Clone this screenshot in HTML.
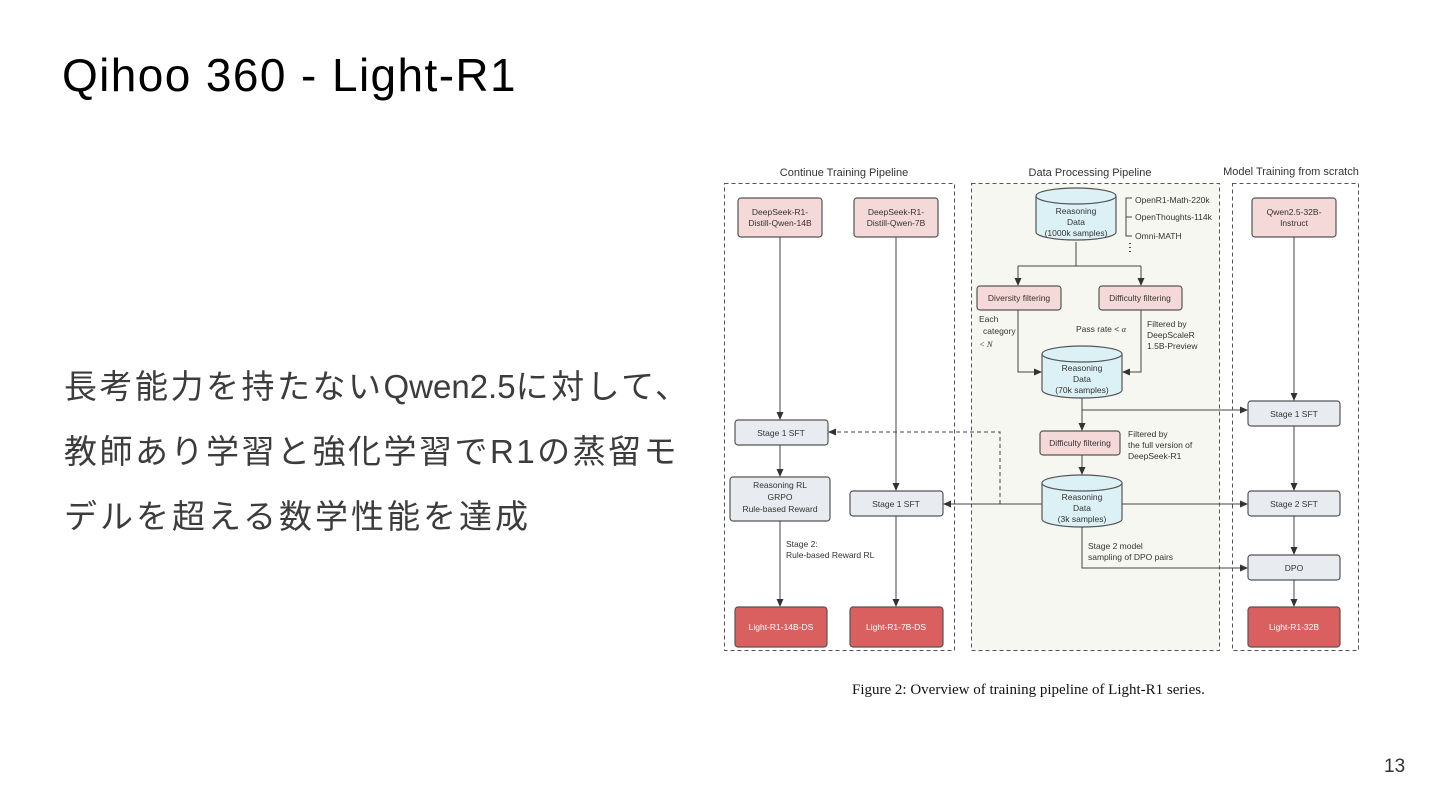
<!DOCTYPE html>
<html><head><meta charset="utf-8"><style>
body{margin:0;width:1440px;height:810px;background:#fff;position:relative;overflow:hidden;font-family:"Liberation Sans","Noto Sans CJK JP",sans-serif}
.t{position:absolute;white-space:nowrap}
.j{font-size:33px;letter-spacing:2.5px;color:#3c3c3c}
</style></head><body>
<div class="t" style="left:62px;top:48px;font-size:46px;letter-spacing:1.4px;color:#000;">Qihoo 360 - Light-R1</div>
<div class="t j" style="left:64px;top:360px;">長考能力を持たない<span style="letter-spacing:0">Qwen2.5</span>に対して、</div>
<div class="t j" style="left:64px;top:425px;">教師あり学習と強化学習でR1の蒸留モ</div>
<div class="t j" style="left:64px;top:490px;letter-spacing:3px;">デルを超える数学性能を達成</div>
<div class="t" style="left:1384px;top:756px;font-size:19px;color:#333;">13</div>
<div class="t" style="left:852px;top:682px;font-size:15px;color:#111;font-family:'Liberation Serif',serif;">Figure 2: Overview of training pipeline of Light-R1 series.</div>
<svg width="1440" height="810" style="position:absolute;left:0;top:0" font-family="Liberation Sans, sans-serif">
<defs><marker id="a" markerWidth="8" markerHeight="8" refX="7" refY="4" orient="auto" markerUnits="userSpaceOnUse"><path d="M0,0.5 L8,4 L0,7.5z" fill="#333"/></marker></defs>
<g font-size="11" fill="#333" text-anchor="middle">
<text x="844" y="176">Continue Training Pipeline</text>
<text x="1090" y="176">Data Processing Pipeline</text>
<text x="1291" y="175">Model Training from scratch</text>
</g>
<g fill="none" stroke="#555" stroke-dasharray="4,3">
<rect x="724.5" y="183.5" width="230" height="467"/>
<rect x="971.5" y="183.5" width="248" height="467" fill="#f7f7f2"/>
<rect x="1232.5" y="183.5" width="126" height="467"/>
</g>
<g stroke="#555" fill="#f5d9d8" stroke-width="1.2">
<rect x="738" y="198" width="84" height="39" rx="3"/>
<rect x="854" y="198" width="84" height="39" rx="3"/>
<rect x="1252" y="198" width="84" height="39" rx="3"/>
<rect x="977" y="286" width="84" height="24" rx="3"/>
<rect x="1099" y="286" width="83" height="24" rx="3"/>
<rect x="1040" y="431" width="80" height="24" rx="3"/>
</g>
<g stroke="#555" fill="#e8ebef" stroke-width="1.2">
<rect x="735" y="420" width="93" height="25" rx="3"/>
<rect x="730" y="477" width="100" height="44" rx="3"/>
<rect x="850" y="491" width="93" height="25" rx="3"/>
<rect x="1248" y="401" width="92" height="25" rx="3"/>
<rect x="1248" y="491" width="92" height="25" rx="3"/>
<rect x="1248" y="555" width="92" height="25" rx="3"/>
</g>
<g stroke="#555" fill="#d9605f" stroke-width="1.2">
<rect x="735" y="607" width="92" height="40" rx="3"/>
<rect x="850" y="607" width="93" height="40" rx="3"/>
<rect x="1248" y="607" width="92" height="40" rx="3"/>
</g>
<g stroke="#555" fill="#dcf1f5" stroke-width="1.2">
<path d="M1036,196 v36 a40,8 0 0 0 80,0 v-36"/><ellipse cx="1076" cy="196" rx="40" ry="8"/>
<path d="M1042,354 v36 a40,8 0 0 0 80,0 v-36"/><ellipse cx="1082" cy="354" rx="40" ry="8"/>
<path d="M1042,483 v36 a40,8 0 0 0 80,0 v-36"/><ellipse cx="1082" cy="483" rx="40" ry="8"/>
</g>
<g font-size="8.5" fill="#333" text-anchor="middle">
<text x="780" y="215">DeepSeek-R1-</text><text x="780" y="226">Distill-Qwen-14B</text>
<text x="896" y="215">DeepSeek-R1-</text><text x="896" y="226">Distill-Qwen-7B</text>
<text x="1294" y="215">Qwen2.5-32B-</text><text x="1294" y="226">Instruct</text>
<text x="1019" y="301">Diversity filtering</text>
<text x="1140" y="301">Difficulty filtering</text>
<text x="1080" y="446">Difficulty filtering</text>
<text x="1076" y="214">Reasoning</text><text x="1076" y="225">Data</text><text x="1076" y="236">(1000k samples)</text>
<text x="1082" y="371">Reasoning</text><text x="1082" y="382">Data</text><text x="1082" y="393">(70k samples)</text>
<text x="1082" y="500">Reasoning</text><text x="1082" y="511">Data</text><text x="1082" y="522">(3k samples)</text>
<text x="781" y="436">Stage 1 SFT</text>
<text x="780" y="488">Reasoning RL</text><text x="780" y="500">GRPO</text><text x="780" y="512">Rule-based Reward</text>
<text x="896" y="507">Stage 1 SFT</text>
<text x="1294" y="417">Stage 1 SFT</text>
<text x="1294" y="507">Stage 2 SFT</text>
<text x="1294" y="571">DPO</text>
</g>
<g font-size="8.5" fill="#fff" text-anchor="middle">
<text x="781" y="630">Light-R1-14B-DS</text>
<text x="896" y="630">Light-R1-7B-DS</text>
<text x="1294" y="630">Light-R1-32B</text>
</g>
<g font-size="8.5" fill="#333">
<text x="1135" y="203">OpenR1-Math-220k</text>
<text x="1135" y="220">OpenThoughts-114k</text>
<text x="1135" y="239">Omni-MATH</text>
<text x="979" y="322">Each</text><text x="983" y="334">category</text>
<text x="979" y="347" font-family="Liberation Serif,serif" font-style="italic">&lt; N</text>
<text x="1076" y="332">Pass rate &lt; <tspan font-style="italic" font-family="Liberation Serif,serif">α</tspan></text>
<text x="1147" y="327">Filtered by</text><text x="1147" y="338">DeepScaleR</text><text x="1147" y="349">1.5B-Preview</text>
<text x="1128" y="437">Filtered by</text><text x="1128" y="448">the full version of</text><text x="1128" y="459">DeepSeek-R1</text>
<text x="1088" y="549">Stage 2 model</text><text x="1088" y="560">sampling of DPO pairs</text>
<text x="786" y="547">Stage 2:</text><text x="786" y="558">Rule-based Reward RL</text>
</g>
<g stroke="#444" fill="none" stroke-width="1">
<path d="M1132,198 h-6 v38 h6 M1126,217 h6"/>
<path d="M1130,243 v1 M1130,247 v1 M1130,251 v1" stroke-width="2"/>
<path d="M780,237 V419" marker-end="url(#a)"/>
<path d="M780,445 V476" marker-end="url(#a)"/>
<path d="M780,521 V606" marker-end="url(#a)"/>
<path d="M896,237 V490" marker-end="url(#a)"/>
<path d="M896,516 V606" marker-end="url(#a)"/>
<path d="M1294,237 V400" marker-end="url(#a)"/>
<path d="M1294,426 V490" marker-end="url(#a)"/>
<path d="M1294,516 V554" marker-end="url(#a)"/>
<path d="M1294,580 V606" marker-end="url(#a)"/>
<path d="M1076,242 V266 M1018,266 H1141"/>
<path d="M1018,266 V285" marker-end="url(#a)"/>
<path d="M1141,266 V285" marker-end="url(#a)"/>
<path d="M1018,310 V372 H1041" marker-end="url(#a)"/>
<path d="M1141,310 V372 H1123" marker-end="url(#a)"/>
<path d="M1082,398 V430" marker-end="url(#a)"/>
<path d="M1082,410 H1247" marker-end="url(#a)"/>
<path d="M1082,455 V474" marker-end="url(#a)"/>
<path d="M1042,504 H944" marker-end="url(#a)"/>
<path d="M1122,504 H1247" marker-end="url(#a)"/>
<path d="M1082,527 V568 H1247" marker-end="url(#a)"/>
<path d="M1000,504 V432 H829" stroke-dasharray="4,3" marker-end="url(#a)"/>
</g>
</svg>
</body></html>
